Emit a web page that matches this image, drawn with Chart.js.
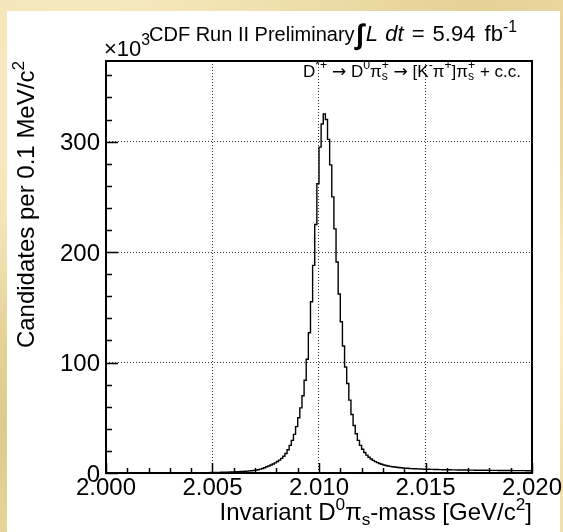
<!DOCTYPE html>
<html>
<head>
<meta charset="utf-8">
<script src="https://cdn.jsdelivr.net/npm/chart.js@4"></script>
<style>
body{
    margin:0;width:563px;height:532px;overflow:hidden;position:relative;
    background-color:#efdfab;
    background-image:
        radial-gradient(circle at 15% 20%, rgba(255,246,214,.7), rgba(255,246,214,0) 35%),
        radial-gradient(circle at 85% 10%, rgba(214,190,120,.5), rgba(214,190,120,0) 30%),
        radial-gradient(circle at 99% 60%, rgba(255,244,205,.8), rgba(255,244,205,0) 25%),
        radial-gradient(circle at 2% 80%, rgba(205,180,110,.5), rgba(205,180,110,0) 30%);
}
#paper{position:absolute;left:7px;top:11px;width:553px;height:521px;background:#fff;}
#myChart{position:absolute;left:0;top:0;}
</style>
</head>
<body>
<div id="paper"></div>
<canvas id="myChart" width="563" height="532"></canvas>
<script>
// histogram: candidates per 0.1 MeV bin, in units of 10^3, from 2.000 GeV
var binStart=2.000;
var binWidth=0.0001;
var counts=[
    0,0,0,0,0,0,0,0,0,0, 0,0,0,0,0,0,0,0,0,0,
    0,0,0,0,0,0,0,0,0,0, 0,0,0,0,0,0,0,0,0,0,
    0,0,0,0,0.05,0.15,0.25,0.3,0.35,0.4,
    0.45,0.5,0.55,0.6,0.65,0.7,0.75,0.8,0.85,0.9,
    1.0,1.1,1.2,1.3,1.4,1.55,1.7,1.9,2.1,2.35,
    2.6,3.0,3.5,4.1,4.8,5.6,6.4,7.3,8.2,9.2,
    10.4,11.7,13.2,15.1,17.6,21,25,29.5,35,42,
    50,59,70,84,103,127,155,188,225,262,
    295,316,325,320,302,279,250,221,191,162,
    137,115,96,81,66,53,43,35.5,29.5,25,
    21.5,18.6,16.2,14.3,12.7,11.4,10.3,9.4,8.6,7.9,
    7.3,6.8,6.4,6.0,5.7,5.4,5.15,4.95,4.75,4.55,
    4.4,4.25,4.1,4.0,3.9,3.8,3.7,3.6,3.5,3.45,
    3.4,3.35,3.3,3.25,3.2,3.15,3.1,3.05,3.0,2.95,
    2.9,2.88,2.85,2.82,2.8,2.77,2.74,2.71,2.68,2.65,
    2.62,2.6,2.57,2.55,2.52,2.5,2.48,2.46,2.44,2.42,
    2.4,2.38,2.36,2.34,2.32,2.3,2.28,2.26,2.24,2.22,
    2.2,2.19,2.17,2.16,2.14,2.13,2.11,2.1,2.08,2.07
];

var xTickValues=[2.000,2.005,2.010,2.015,2.020];
var xTickLabels=['2.000','2.005','2.010','2.015','2.020'];
var yTickValues=[0,100,200,300];
var yTickLabels=['0','100','200','300'];
var xMin=2.000, xMax=2.020;
var yMin=0, yMax=373;

var FONT='"Liberation Sans", Arial, Helvetica, sans-serif';
var ARROW_FONT='"DejaVu Sans", sans-serif';

var histPoints=[];
for(let i=0;i<counts.length;i++){
    histPoints.push({x:binStart+i*binWidth,y:counts[i]});
}
histPoints.push({x:xMax,y:counts[counts.length-1]});


// ++++++++++++++++++++ text with super/subscripts ++++++++++++++++++++

function partFont(p,size){
    return (p.style||'')+' '+(size*(p.scale||1))+'px '+(p.fam||FONT);
}

function richText(ctx,parts,x,y,size,align){
    let small=size*0.72;
    let items=parts.map(function(p){
        if(typeof p==='string') p={t:p};
        if(p.sup!==undefined||p.sub!==undefined){
            ctx.font=small+'px '+FONT;
            let w=Math.max(p.sup?ctx.measureText(p.sup).width:0,p.sub?ctx.measureText(p.sub).width:0);
            return {p:p,w:w+(p.gap||0)};
        }
        ctx.font=partFont(p,size);
        return {p:p,w:ctx.measureText(p.t).width+(p.gap||0)};
    });
    let total=items.reduce(function(a,b){return a+b.w;},0);
    let cx=align==='right'?x-total:(align==='center'?x-total/2:x);
    ctx.textAlign='left';
    ctx.textBaseline='alphabetic';
    items.forEach(function(it){
        let p=it.p;
        if(p.sup!==undefined||p.sub!==undefined){
            ctx.font=small+'px '+FONT;
            if(p.sup) ctx.fillText(p.sup,cx,y-size*(p.rise||0.42));
            if(p.sub) ctx.fillText(p.sub,cx,y+size*0.22);
        }else{
            ctx.font=partFont(p,size);
            ctx.fillText(p.t,cx,y+(p.dy||0));
        }
        cx+=it.w;
    });
}


// ++++++++++++++++++++ frame, ticks, labels (ROOT style) ++++++++++++++++++++

var rootStyle={
    id:'rootStyle',
    afterDraw:function(chart){
        const ctx=chart.ctx;
        const a=chart.chartArea;
        const xs=chart.scales.x, ys=chart.scales.y;
        ctx.save();
        ctx.strokeStyle='#000';
        ctx.fillStyle='#000';

        // inward ticks
        ctx.lineWidth=1.5;
        ctx.beginPath();
        for(let k=0;k<=20;k++){
            let v=xMin+k*0.001;
            let px=Math.round(xs.getPixelForValue(v))+0.5;
            let len=(k%5===0)?10:5;
            ctx.moveTo(px,a.bottom);
            ctx.lineTo(px,a.bottom-len);
        }
        for(let v=0;v<=yMax;v+=20){
            let py=Math.round(ys.getPixelForValue(v))+0.5;
            let len=(v%100===0)?12:6;
            ctx.moveTo(a.left,py);
            ctx.lineTo(a.left+len,py);
        }
        ctx.stroke();

        // frame
        ctx.lineWidth=2;
        ctx.strokeRect(a.left,a.top,a.right-a.left,a.bottom-a.top);

        // tick labels
        ctx.font='24px '+FONT;
        ctx.textBaseline='alphabetic';
        ctx.textAlign='center';
        for(let i=0;i<xTickValues.length;i++){
            ctx.fillText(xTickLabels[i],xs.getPixelForValue(xTickValues[i]),a.bottom+22);
        }
        ctx.textAlign='right';
        for(let i=0;i<yTickValues.length;i++){
            ctx.fillText(yTickLabels[i],a.left-6,ys.getPixelForValue(yTickValues[i])+8.5);
        }

        // axis titles
        richText(ctx,['Invariant D',{sup:'0'},'\u03c0',{sub:'s'},'-mass [GeV/c',{sup:'2'},']'],a.right,520,24,'right');
        ctx.save();
        ctx.translate(34,a.top);
        ctx.rotate(-Math.PI/2);
        richText(ctx,['Candidates per 0.1 MeV/c',{sup:'2'}],0,0,24,'right');
        ctx.restore();

        // exponent and header
        richText(ctx,['\u00d710',{sup:'3',rise:0.5}],a.left-2,56,22,'left');
        richText(ctx,['CDF Run II Preliminary'],149,41,20,'left');
        richText(ctx,[{t:'\u222b',style:'bold',scale:1.3,dy:3,gap:2},
            {t:'L',style:'italic',gap:1},{t:' dt',style:'italic',gap:2},
            {t:' =',gap:2},{t:' 5.94',gap:3},' fb',{sup:'-1'}],356,41,22,'left');

        // decay channel
        richText(ctx,['D',{sup:'*+'},' ',{t:'\u2192',fam:ARROW_FONT},' D',{sup:'0'},'\u03c0',{sup:'+',sub:'s'},
            ' ',{t:'\u2192',fam:ARROW_FONT},' [K',{sup:'-'},'\u03c0',{sup:'+'},']\u03c0',{sup:'+',sub:'s'},' + c.c.'],521,76.5,17,'right');
        ctx.restore();
    }
};


// +++++++++++++++++++++++++ ADDING CHART ++++++++++++++++++++++++++++++++++++

function edgeHidden(min,max){
    return function(c){
        let v=c.tick?c.tick.value:null;
        if(v===null) return 'rgba(0,0,0,0)';
        return (Math.abs(v-min)<1e-9||Math.abs(v-max)<1e-9)?'rgba(0,0,0,0)':'#333';
    };
}

var canvas=document.getElementById('myChart').getContext('2d');
var myChart=new Chart(canvas,{
    type:'line',
    data:{
        datasets:[{
            data:histPoints,
            stepped:true,
            borderColor:'#000',
            borderWidth:1.4,
            pointRadius:0,
            fill:false,
        }]
    },
    options:{
        responsive:false,
        animation:false,
        devicePixelRatio:1,
        layout:{padding:{left:106,top:61,right:31,bottom:59}},
        plugins:{legend:{display:false},tooltip:{enabled:false}},
        scales:{
            x:{
                type:'linear',
                min:xMin,max:xMax,
                afterBuildTicks:function(s){s.ticks=xTickValues.map(function(v){return {value:v};});},
                afterFit:function(s){s.height=0;},
                ticks:{display:false},
                grid:{color:edgeHidden(xMin,xMax),lineWidth:1,drawTicks:false},
                border:{display:false,dash:[1,2]},
            },
            y:{
                min:yMin,max:yMax,
                afterBuildTicks:function(s){s.ticks=yTickValues.map(function(v){return {value:v};});},
                afterFit:function(s){s.width=0;},
                ticks:{display:false},
                grid:{color:edgeHidden(yMin,yMax+1000),lineWidth:1,drawTicks:false},
                border:{display:false,dash:[1,2]},
            }
        }
    },
    plugins:[rootStyle]
});
</script>
</body>
</html>
